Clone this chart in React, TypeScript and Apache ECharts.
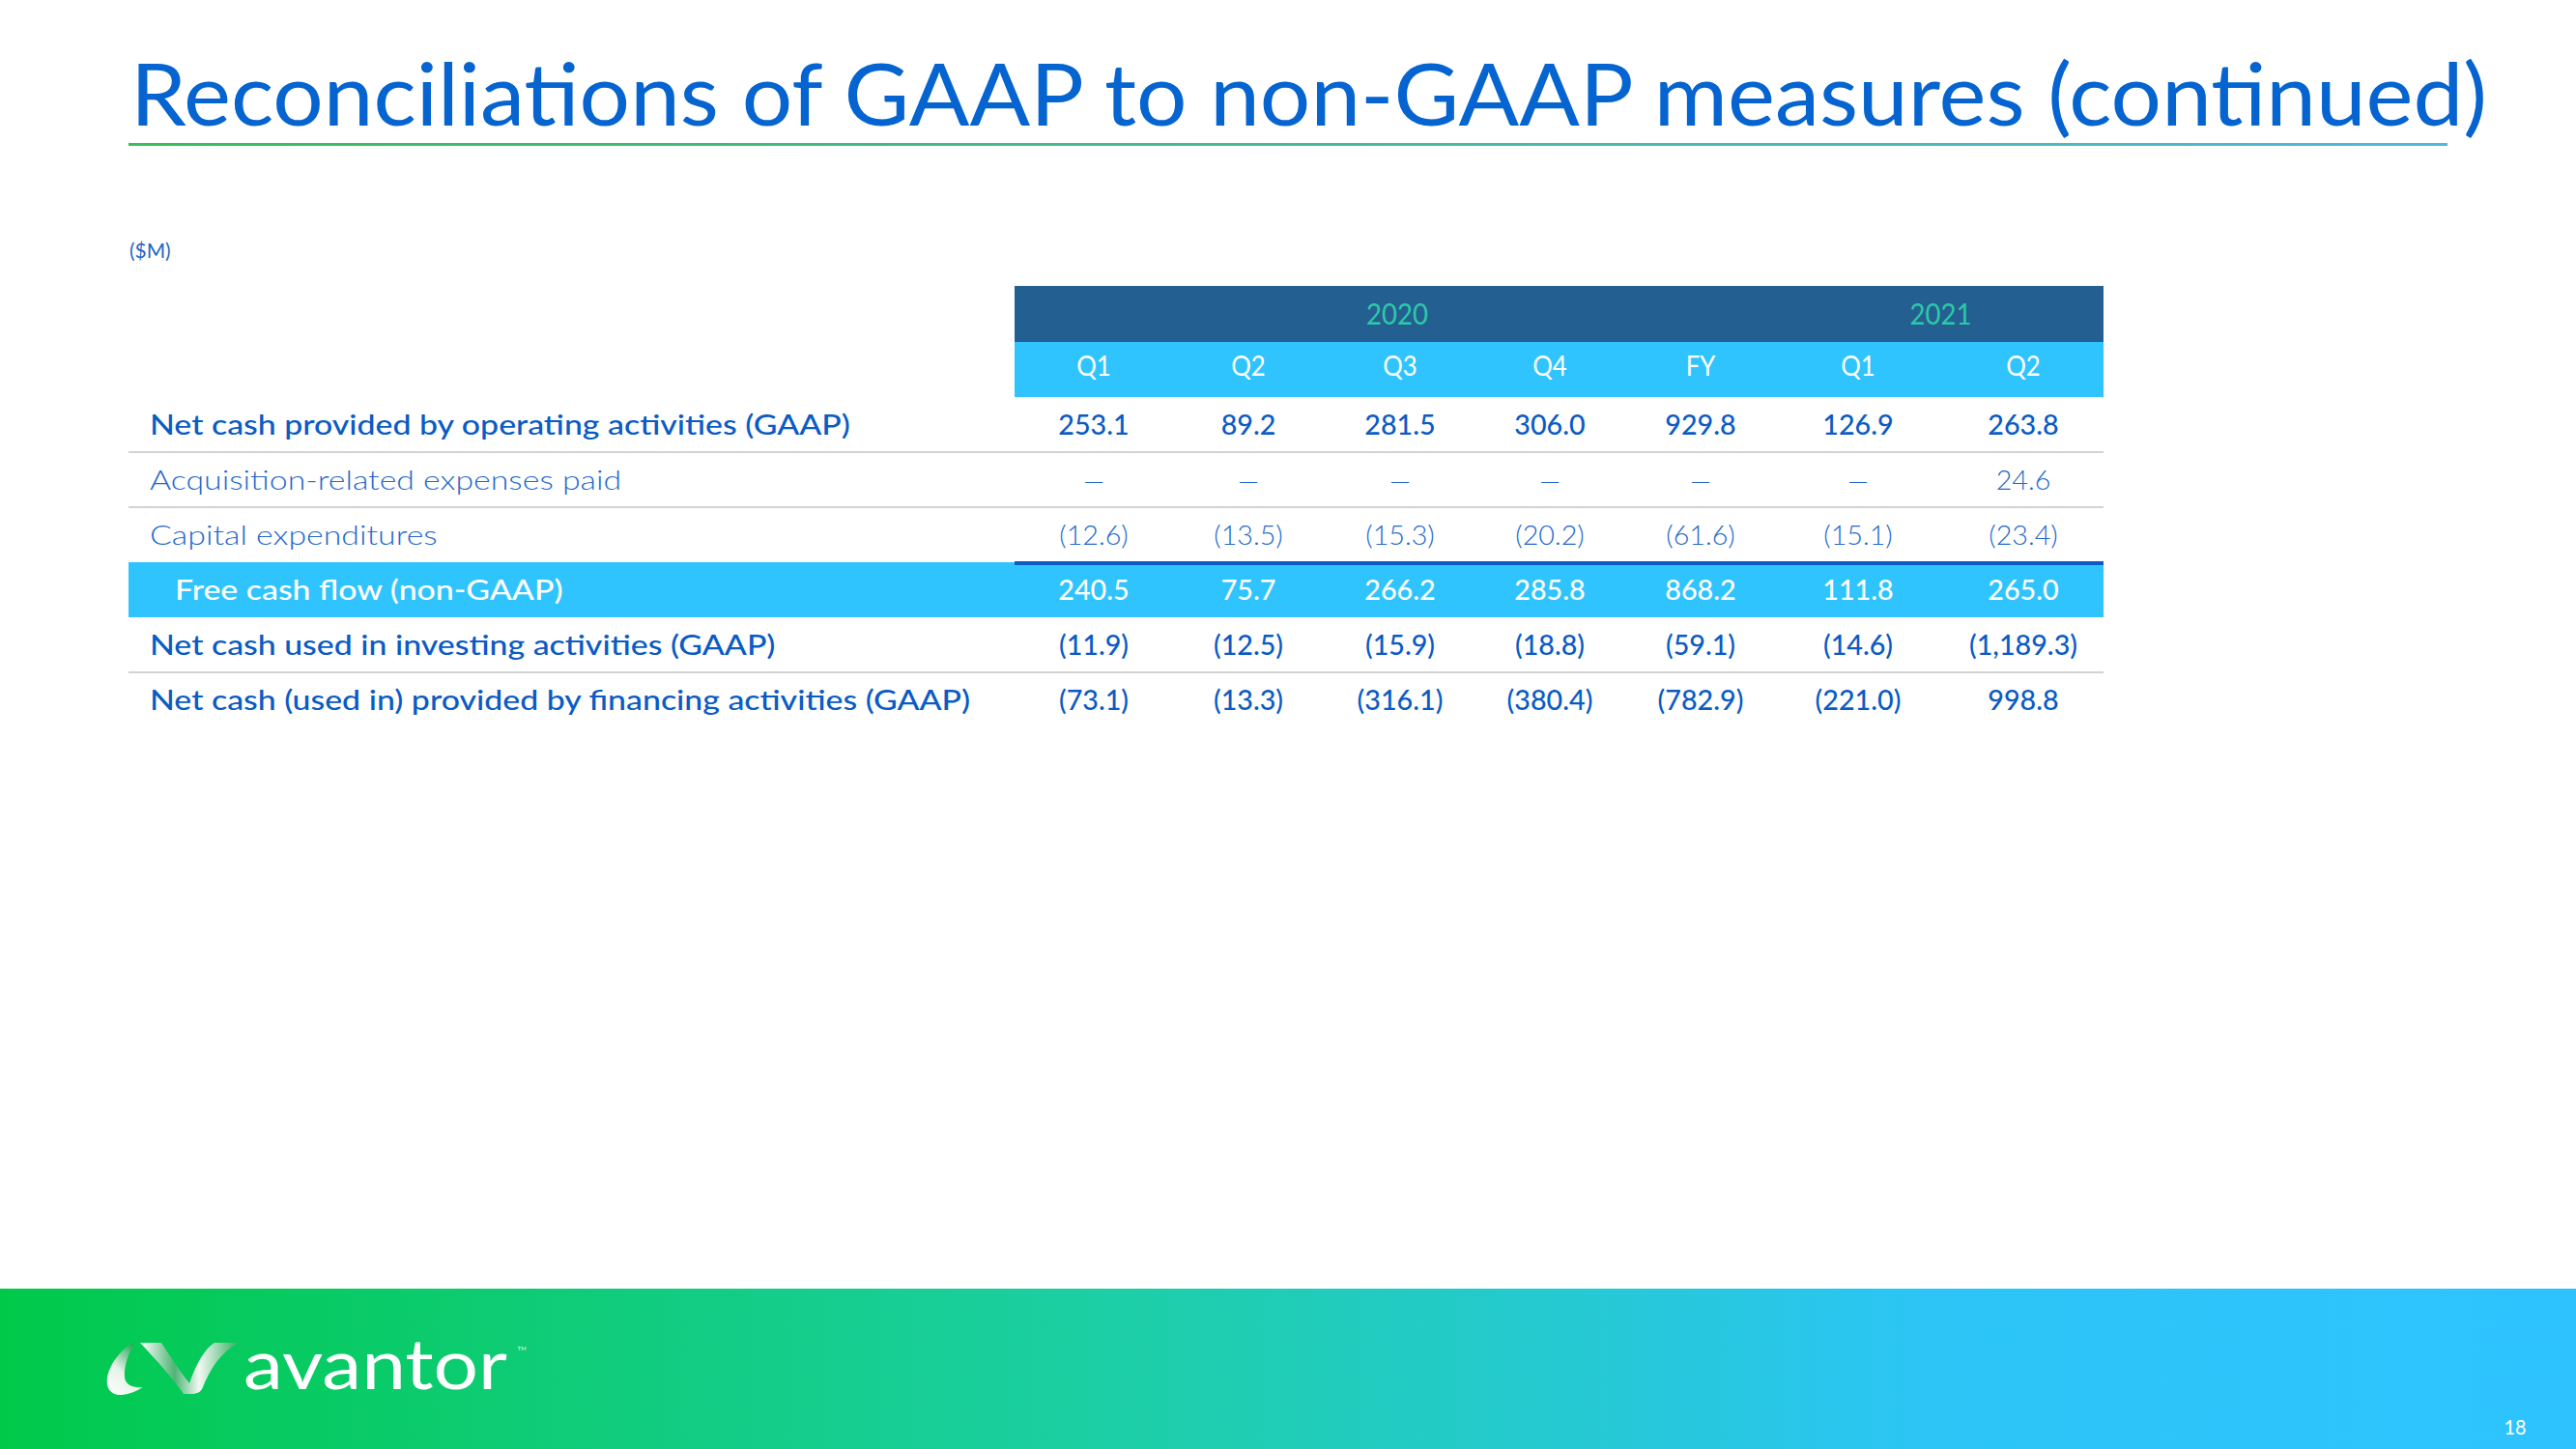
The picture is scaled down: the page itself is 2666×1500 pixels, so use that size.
import React, { useEffect, useRef } from "react";
import * as echarts from "echarts";

// ---------- data ----------
const TITLE = "Reconciliations of GAAP to non-GAAP measures (continued)";
const UNIT_LABEL = "($M)";
const YEARS = ["2020", "2021"];
const YEAR_FIRST_COL = [0, 5];
const YEAR_LAST_COL = [4, 6];
const PERIODS = ["Q1", "Q2", "Q3", "Q4", "FY", "Q1", "Q2"];
const ROW_LABELS = [
  "Net cash provided by operating activities (GAAP)",
  "Acquisition-related expenses paid",
  "Capital expenditures",
  "Free cash flow (non-GAAP)",
  "Net cash used in investing activities (GAAP)",
  "Net cash (used in) provided by financing activities (GAAP)",
];
const OPERATING = [253.1, 89.2, 281.5, 306.0, 929.8, 126.9, 263.8];
const ACQUISITION = [null, null, null, null, null, null, 24.6];
const CAPEX = [-12.6, -13.5, -15.3, -20.2, -61.6, -15.1, -23.4];
const FREE_CASH_FLOW = [240.5, 75.7, 266.2, 285.8, 868.2, 111.8, 265.0];
const INVESTING = [-11.9, -12.5, -15.9, -18.8, -59.1, -14.6, -1189.3];
const FINANCING = [-73.1, -13.3, -316.1, -380.4, -782.9, -221.0, 998.8];
const ROW_VALUES = [OPERATING, ACQUISITION, CAPEX, FREE_CASH_FLOW, INVESTING, FINANCING];
const ROW_KIND = ["bold", "light", "light", "highlight", "bold", "bold"];
const BRAND = "avantor";
const PAGE_NUMBER = "18";

// ---------- layout ----------
const W = 2666;
const H = 1500;
const FONT = "Lato";
const COL_CENTERS = [1132, 1292, 1449, 1604, 1760, 1923, 2094];
const TABLE_LEFT = 133;
const NUM_LEFT = 1050;
const TABLE_RIGHT = 2177;
const HEAD1_TOP = 296;
const HEAD2_TOP = 354;
const BODY_TOP = 411;
const ROW_H = 57;

const DARK_BAND = "#245f91";
const LIGHT_BAND = "#30c4fe";
const BOLD_BLUE = "#0a5bc4";
const LIGHT_BLUE = "#2569cc";
const YEAR_COLOR = "#2cc9a8";

function fmt(v: number | null): string {
  if (v === null || v === undefined) return "—";
  const s = Math.abs(v).toLocaleString("en-US", {
    minimumFractionDigits: 1,
    maximumFractionDigits: 1,
  });
  return v < 0 ? `(${s})` : s;
}

const measureCtx: CanvasRenderingContext2D | null =
  typeof document !== "undefined" ? document.createElement("canvas").getContext("2d") : null;
function measure(text: string, weight: number, size: number): number {
  if (!measureCtx) return text.length * size * 0.5;
  measureCtx.font = `${weight} ${size}px ${FONT}`;
  return measureCtx.measureText(text).width;
}

let shapesRegistered = false;
function registerShapes() {
  if (shapesRegistered) return;
  shapesRegistered = true;
  echarts.graphic.registerShape(
    "avLeft",
    echarts.graphic.extendPath(
      "M40 19 C28 24 14 40 11 56 C9 68 16 75 26 74 C34 73 42 70 48 66 C38 67 30 64 29 56 C28 44 33 30 40 19 Z",
      {} as any
    ) as any
  );
  echarts.graphic.registerShape(
    "avRight",
    echarts.graphic.extendPath(
      "M45 20 L67 20 C75 32 85 48 96 62 C103 42 112 26 122 20 L147 20 C128 30 117 48 110 66 C108 71 104 73 98 73 L90 73 C80 58 60 36 45 20 Z",
      {} as any
    ) as any
  );
}

function text(
  str: string,
  x: number,
  y: number,
  size: number,
  weight: number,
  fill: any,
  align: string,
  scaleX = 1,
  z = 10
) {
  return {
    type: "text",
    x,
    y,
    scaleX,
    z,
    silent: true,
    style: {
      text: str,
      fill,
      fontFamily: FONT,
      fontSize: size,
      fontWeight: weight,
      align,
      textAlign: align,
      verticalAlign: "middle",
      textVerticalAlign: "middle",
    },
  };
}

function rect(x: number, y: number, w: number, h: number, fill: any, z = 1) {
  return { type: "rect", z, silent: true, shape: { x, y, width: w, height: h }, style: { fill } };
}

function buildGraphics() {
  const g: any[] = [];
  const LG = echarts.graphic.LinearGradient;

  // Title
  const titleSize = 89;
  const titleScale = 2446 / measure(TITLE, 400, titleSize);
  g.push(text(TITLE, 135, 95, titleSize, 400, "#0564cf", "left", titleScale));
  g.push(
    rect(133, 148, 2400, 3, new LG(0, 0, 1, 0, [
      { offset: 0, color: "#35c05a" },
      { offset: 1, color: "#4fb8da" },
    ]))
  );
  g.push(text(UNIT_LABEL, 134, 259, 22, 400, "#1f66c8", "left", 0.95));

  // Header bands
  g.push(rect(NUM_LEFT, HEAD1_TOP, TABLE_RIGHT - NUM_LEFT, HEAD2_TOP - HEAD1_TOP, DARK_BAND));
  g.push(rect(NUM_LEFT, HEAD2_TOP, TABLE_RIGHT - NUM_LEFT, BODY_TOP - HEAD2_TOP, LIGHT_BAND));

  YEARS.forEach((yr, i) => {
    const cx = (COL_CENTERS[YEAR_FIRST_COL[i]] + COL_CENTERS[YEAR_LAST_COL[i]]) / 2;
    g.push(text(yr, cx, (HEAD1_TOP + HEAD2_TOP) / 2, 30, 400, YEAR_COLOR, "center", 0.92));
  });
  PERIODS.forEach((p, i) => {
    g.push(text(p, COL_CENTERS[i], (HEAD2_TOP + BODY_TOP) / 2 - 4, 28, 400, "#ffffff", "center", 0.92));
  });

  // Body
  const labelScale = 726 / measure(ROW_LABELS[0], 500, 28);
  const valueScale = 112 / measure(fmt(-1189.3), 500, 28);
  ROW_LABELS.forEach((label, r) => {
    const top = BODY_TOP + r * ROW_H;
    const cy = top + ROW_H / 2;
    const kind = ROW_KIND[r];
    if (kind === "highlight") {
      g.push(rect(TABLE_LEFT, top, TABLE_RIGHT - TABLE_LEFT, ROW_H, LIGHT_BAND));
      g.push(rect(NUM_LEFT, top - 1, TABLE_RIGHT - NUM_LEFT, 4, "#0a5cc2", 3));
    }
    const color = kind === "highlight" ? "#ffffff" : kind === "bold" ? BOLD_BLUE : LIGHT_BLUE;
    const weight = kind === "light" ? 300 : 500;
    const lx = kind === "highlight" ? 181 : 155;
    g.push(text(label, lx, cy, 28, weight, color, "left", labelScale));
    ROW_VALUES[r].forEach((v, c) => {
      const isDash = v === null;
      g.push(
        text(fmt(v as any), COL_CENTERS[c], cy, 28, weight, color, "center", isDash ? 1 : valueScale)
      );
    });
    const next = ROW_KIND[r + 1];
    if (r < ROW_LABELS.length - 1 && kind !== "highlight" && next !== "highlight") {
      g.push(rect(TABLE_LEFT, top + ROW_H - 1, TABLE_RIGHT - TABLE_LEFT, 2, "#d3d3d3", 2));
    }
  });

  // Footer
  g.push(
    rect(0, 1334, W, H - 1334, new LG(0, 0, 1, 0, [
      { offset: 0, color: "#00c94a" },
      { offset: 0.42, color: "#1ccfa3" },
      { offset: 0.75, color: "#2cc5f6" },
      { offset: 1, color: "#2ec3ff" },
    ]))
  );
  g.push({
    type: "avLeft",
    x: 100,
    y: 1370,
    z: 5,
    silent: true,
    style: {
      fill: new LG(0, 1, 0.6, 0, [
        { offset: 0, color: "#ffffff" },
        { offset: 0.5, color: "#e6f3e8" },
        { offset: 1, color: "#2fa85a" },
      ]),
    },
  });
  g.push({
    type: "avRight",
    x: 100,
    y: 1370,
    z: 5,
    silent: true,
    style: {
      fill: new LG(0, 0, 1, 0, [
        { offset: 0, color: "#ffffff" },
        { offset: 0.35, color: "#4fb474" },
        { offset: 0.6, color: "#f2f8f3" },
        { offset: 1, color: "#34b060" },
      ]),
    },
  });
  const brandSize = 71;
  const brandScale = 273 / measure(BRAND, 400, brandSize);
  g.push(text(BRAND, 252, 1410, brandSize, 400, "#ffffff", "left", brandScale, 6));
  g.push(text("™", 535, 1398, 14, 300, "#ffffff", "left", 1, 6));
  g.push(text(PAGE_NUMBER, 2603, 1476, 22, 400, "#ffffff", "center", 0.9, 6));

  return g;
}

export default function App() {
  const ref = useRef<HTMLDivElement>(null);
  useEffect(() => {
    if (!ref.current) return;
    registerShapes();
    const chart = echarts.init(ref.current, undefined, { renderer: "svg", width: W, height: H });
    chart.setOption({
      animation: false,
      backgroundColor: "#ffffff",
      graphic: { elements: buildGraphics() },
    });
    return () => chart.dispose();
  }, []);
  return (
    <div
      ref={ref}
      style={{ position: "fixed", left: 0, top: 0, width: W, height: H, background: "#fff" }}
    />
  );
}
